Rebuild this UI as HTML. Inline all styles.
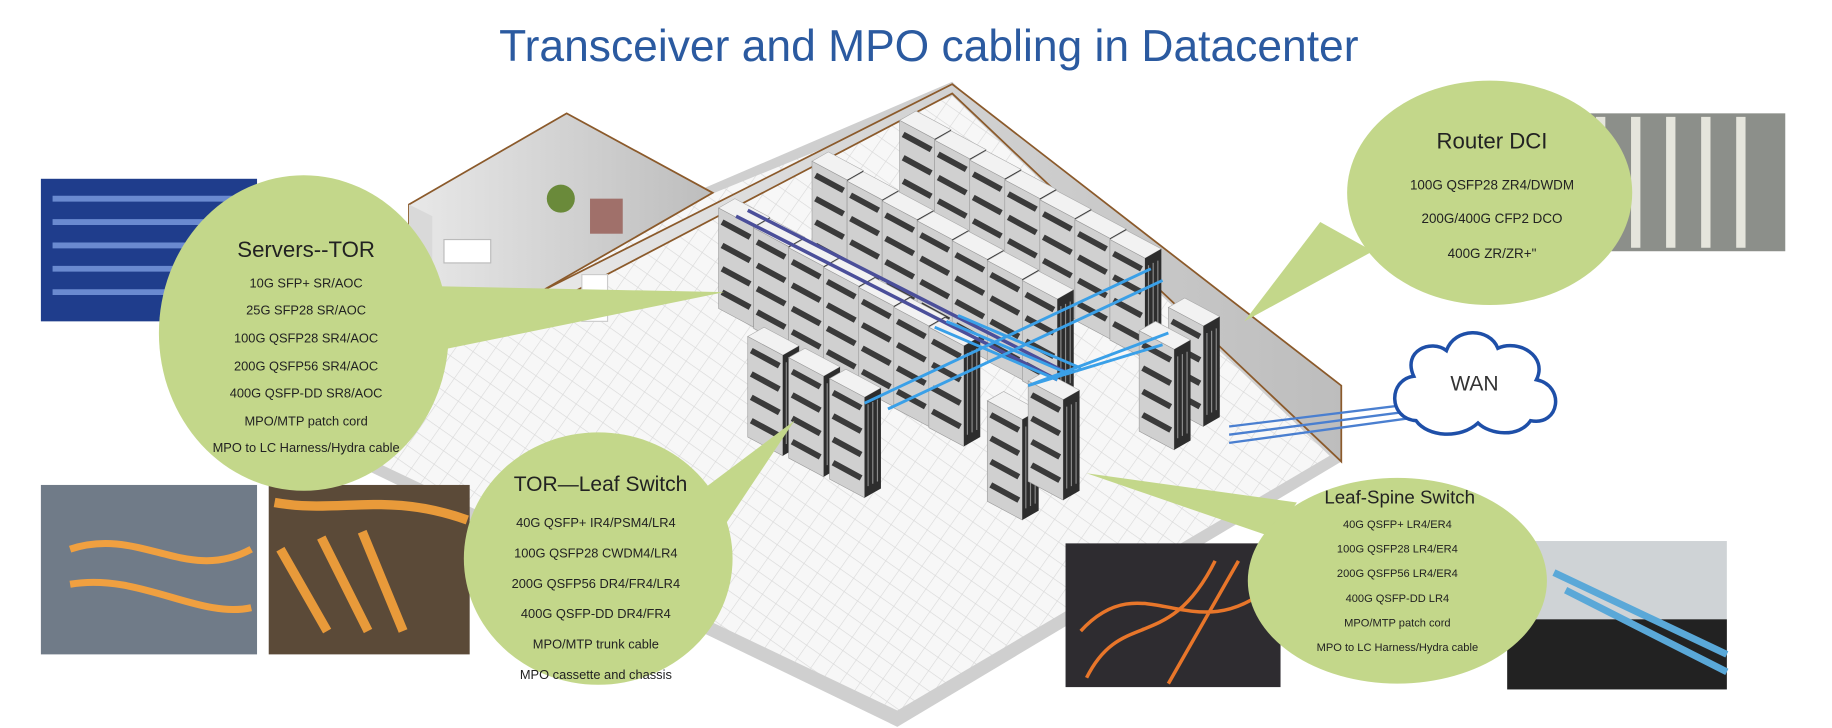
<!DOCTYPE html>
<html><head><meta charset="utf-8"><style>
html,body{margin:0;padding:0;background:#fff;}
svg{display:block;}
text{font-family:"Liberation Sans",sans-serif;}
</style></head><body>
<svg width="1832" height="728" viewBox="0 0 1568 623" preserveAspectRatio="none" xmlns="http://www.w3.org/2000/svg">
<defs>
<pattern id="grid" width="14" height="14" patternUnits="userSpaceOnUse" patternTransform="rotate(35)">
<rect width="14" height="14" fill="#f7f7f7"/><path d="M0 0H14M0 0V14" stroke="#d8d8d8" stroke-width="1"/>
</pattern>
<linearGradient id="wall" x1="0" x2="1"><stop offset="0" stop-color="#e8e8e8"/><stop offset="1" stop-color="#bdbdbd"/></linearGradient>
<g id="rack">
<polygon points="0,8 14,0 44,16 30,24" fill="#f2f2f2" stroke="#aaa" stroke-width="0.5"/>
<polygon points="0,8 30,24 30,110 0,94" fill="#d0d0d0" stroke="#999" stroke-width="0.5"/>
<polygon points="30,24 44,16 44,102 30,110" fill="#2d2d2d"/>
<path d="M3 20L27 33M3 40L27 53M3 60L27 73M3 80L27 93" stroke="#3a3a3a" stroke-width="5"/>
<path d="M33 30V100M37 28V98M41 26V96" stroke="#8a8a8a" stroke-width="1"/>
</g>
</defs>
<rect width="1568" height="623" fill="#fff"/>
<text x="795" y="52" text-anchor="middle" font-size="38" fill="#2b5aa0">Transceiver and MPO cabling in Datacenter</text>

<polygon points="185,340 768,622 1148,395 815,70" fill="#cfcfcf"/>
<polygon points="195,335 768,608 1138,390 815,82" fill="url(#grid)"/>
<polygon points="350,175 485,97 610,165 462,250 350,300" fill="url(#wall)" stroke="#8b5a2b" stroke-width="1.5"/>
<polygon points="462,250 815,72 1148,330 1148,395 815,80 462,265" fill="url(#wall)" stroke="#8b5a2b" stroke-width="1.5"/>
<polygon points="350,175 350,300 370,295 370,185" fill="#d9d9d9"/>
<rect x="380" y="205" width="40" height="20" fill="#fff" stroke="#bbb"/>
<rect x="505" y="170" width="28" height="30" fill="#a0706a"/>
<circle cx="480" cy="170" r="12" fill="#6a8a3a"/>
<rect x="498" y="235" width="22" height="40" fill="#fff" stroke="#ccc"/>

<g>
<use href="#rack" x="770" y="95"/><use href="#rack" x="800" y="112"/><use href="#rack" x="830" y="129"/><use href="#rack" x="860" y="146"/><use href="#rack" x="890" y="163"/><use href="#rack" x="920" y="180"/><use href="#rack" x="950" y="197"/>
<use href="#rack" x="695" y="130"/><use href="#rack" x="725" y="147"/><use href="#rack" x="755" y="164"/><use href="#rack" x="785" y="181"/><use href="#rack" x="815" y="198"/><use href="#rack" x="845" y="215"/><use href="#rack" x="875" y="232"/>
<use href="#rack" x="615" y="170"/><use href="#rack" x="645" y="187"/><use href="#rack" x="675" y="204"/><use href="#rack" x="705" y="221"/><use href="#rack" x="735" y="238"/><use href="#rack" x="765" y="255"/><use href="#rack" x="795" y="272"/>
<use href="#rack" x="1000" y="255"/><use href="#rack" x="975" y="275"/>
<use href="#rack" x="640" y="280"/><use href="#rack" x="675" y="298"/><use href="#rack" x="710" y="316"/>
<use href="#rack" x="845" y="335"/><use href="#rack" x="880" y="318"/>
</g>
<path d="M630 185L905 325M640 180L915 320" stroke="#4b4f9a" stroke-width="3"/>
<path d="M740 345L985 230M760 350L995 240M880 330L1000 285M880 330L995 295M800 280L905 325M810 275L915 320M820 270L925 315" stroke="#3aa0e8" stroke-width="2.5"/>
<path d="M1052 365L1215 345M1052 372L1222 350M1052 379L1228 355" stroke="#4a7fd0" stroke-width="2"/>

<path d="M1212 360 C1188 358 1188 325 1210 322 C1200 300 1225 290 1238 300 C1245 280 1275 280 1282 298 C1300 290 1325 305 1315 325 C1340 330 1335 365 1310 360 C1300 375 1275 372 1265 362 C1250 376 1222 374 1212 360Z" fill="#fff" stroke="#1e4fa8" stroke-width="3"/>
<text x="1262" y="334" text-anchor="middle" font-size="18" fill="#333">WAN</text>

<rect x="35" y="153" width="185" height="122" fill="#1f3d8c"/>
<path d="M45 170H210M45 190H210M45 210H210M45 230H210M45 250H210" stroke="#6a8ad0" stroke-width="5"/>
<rect x="1345" y="97" width="183" height="118" fill="#8c8f8a"/>
<path d="M1370 100V212M1400 100V212M1430 100V212M1460 100V212M1490 100V212" stroke="#e5e5dc" stroke-width="8"/>
<rect x="35" y="415" width="185" height="145" fill="#707b88"/>
<path d="M60 470C120 450 160 500 215 470M60 500C120 490 170 530 215 520" stroke="#f0a040" stroke-width="6" fill="none"/>
<rect x="230" y="415" width="172" height="145" fill="#5b4a38"/>
<path d="M235 430C290 440 330 420 400 445M240 470L280 540M275 460L315 540M310 455L345 540" stroke="#e89a3a" stroke-width="8" fill="none"/>
<rect x="912" y="465" width="184" height="123" fill="#2e2c30"/>
<path d="M925 540C980 480 1020 560 1090 500M930 580C960 520 1000 560 1040 480M1000 585L1060 480" stroke="#e8762a" stroke-width="3" fill="none"/>
<rect x="1290" y="463" width="188" height="127" fill="#cfd3d6"/>
<rect x="1290" y="530" width="188" height="60" fill="#222"/>
<path d="M1330 490L1478 560M1340 505L1478 575" stroke="#5aa8d8" stroke-width="6"/>

<polygon points="375,245 620,250 375,300" fill="#c3d78a"/>
<polygon points="1130,190 1065,275 1175,215" fill="#c3d78a"/>
<polygon points="600,420 680,360 620,450" fill="#c3d78a"/>
<polygon points="930,405 1110,430 1090,460" fill="#c3d78a"/>

<ellipse cx="260" cy="285" rx="124" ry="135" fill="#c3d78a"/>
<text x="262" y="220" text-anchor="middle" font-size="19" fill="#222">Servers--TOR</text>
<g font-size="11" fill="#222" text-anchor="middle">
<text x="262" y="246">10G SFP+ SR/AOC</text><text x="262" y="269">25G SFP28 SR/AOC</text><text x="262" y="293">100G QSFP28 SR4/AOC</text><text x="262" y="317">200G QSFP56 SR4/AOC</text><text x="262" y="340">400G QSFP-DD SR8/AOC</text><text x="262" y="364">MPO/MTP patch cord</text><text x="262" y="387">MPO to LC Harness/Hydra cable</text>
</g>
<ellipse cx="1275" cy="165" rx="122" ry="96" fill="#c3d78a"/>
<text x="1277" y="127" text-anchor="middle" font-size="19" fill="#222">Router DCI</text>
<g font-size="11.5" fill="#222" text-anchor="middle">
<text x="1277" y="162">100G QSFP28 ZR4/DWDM</text><text x="1277" y="191">200G/400G CFP2 DCO</text><text x="1277" y="221">400G ZR/ZR+"</text>
</g>
<ellipse cx="512" cy="478" rx="115" ry="108" fill="#c3d78a"/>
<text x="514" y="420" text-anchor="middle" font-size="18" fill="#222">TOR—Leaf Switch</text>
<g font-size="11" fill="#222" text-anchor="middle">
<text x="510" y="451">40G QSFP+ IR4/PSM4/LR4</text><text x="510" y="477">100G QSFP28 CWDM4/LR4</text><text x="510" y="503">200G QSFP56 DR4/FR4/LR4</text><text x="510" y="529">400G QSFP-DD DR4/FR4</text><text x="510" y="555">MPO/MTP trunk cable</text><text x="510" y="581">MPO cassette and chassis</text>
</g>
<ellipse cx="1196" cy="497" rx="128" ry="88" fill="#c3d78a"/>
<text x="1198" y="431" text-anchor="middle" font-size="16" fill="#222">Leaf-Spine Switch</text>
<g font-size="9.5" fill="#222" text-anchor="middle">
<text x="1196" y="452">40G QSFP+ LR4/ER4</text><text x="1196" y="473">100G QSFP28 LR4/ER4</text><text x="1196" y="494">200G QSFP56 LR4/ER4</text><text x="1196" y="515">400G QSFP-DD LR4</text><text x="1196" y="536">MPO/MTP patch cord</text><text x="1196" y="557">MPO to LC Harness/Hydra cable</text>
</g>
</svg>
</body></html>
